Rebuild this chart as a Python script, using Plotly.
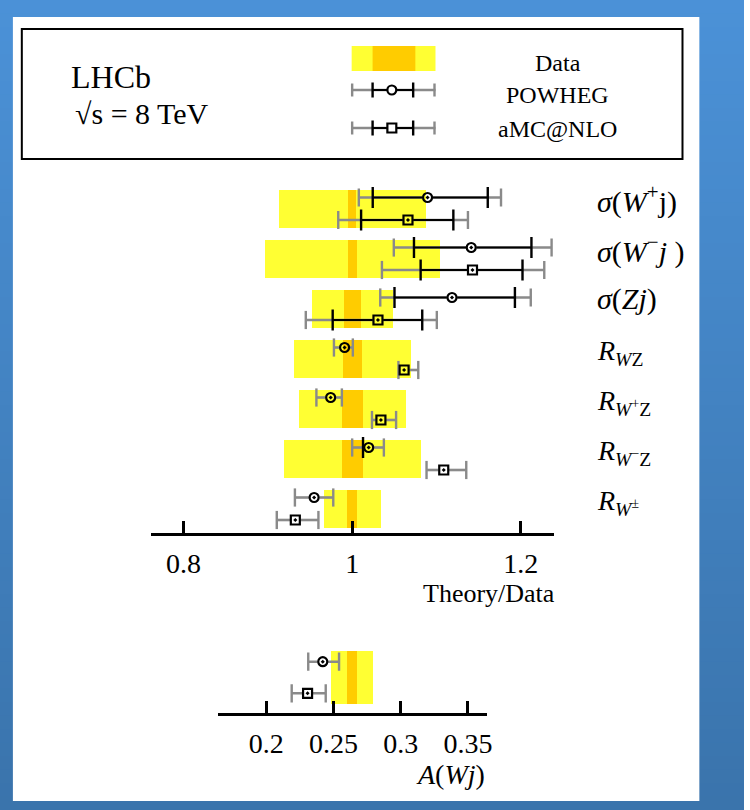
import plotly.graph_objects as go

# ---------------- data ----------------
labels = [
    "<i>σ</i>(<i>W</i><sup>+</sup>j)",
    "<i>σ</i>(<i>W</i><sup>−</sup><i>j</i> )",
    "<i>σ</i>(<i>Zj</i>)",
    "<i>R</i><sub><i>W</i>Z</sub>",
    "<i>R</i><sub><i>W</i><sup>+</sup>Z</sub>",
    "<i>R</i><sub><i>W</i><sup>−</sup>Z</sub>",
    "<i>R</i><sub><i>W</i><sup>±</sup></sub>",
]

# data uncertainties relative to the measurement (Theory/Data = 1)
data_tot = [0.087, 0.1037, 0.048, 0.069, 0.063, 0.081, 0.034]
data_stat = [0.0047, 0.0057, 0.0104, 0.0114, 0.0122, 0.0122, 0.006]

# POWHEG: central value, inner (black) interval, outer (grey) interval
pow_val = [1.0894, 1.1412, 1.1184, 0.9910, 0.9745, 1.0196, 0.9549]
pow_in_lo = [1.0244, 1.0733, 1.0502, 0.9870, 0.9705, 1.0129, 0.9510]
pow_in_hi = [1.1608, 1.2126, 1.1930, 0.9950, 0.9785, 1.0240, 0.9590]
pow_out_lo = [1.0079, 1.0494, 1.0333, 0.9784, 0.9576, 1.0000, 0.9321]
pow_out_hi = [1.1765, 1.2365, 1.2118, 1.0008, 0.9878, 1.0376, 0.9776]

# aMC@NLO
amc_val = [1.0662, 1.1427, 1.0306, 1.0616, 1.0341, 1.1086, 0.9326]
amc_in_lo = [1.0106, 1.0812, 0.9769, 1.0580, 1.0300, 1.1050, 0.9290]
amc_in_hi = [1.1200, 1.2020, 1.0831, 1.0650, 1.0380, 1.1120, 0.9360]
amc_out_lo = [0.9835, 1.0353, 0.9450, 1.0549, 1.0235, 1.0882, 0.9106]
amc_out_hi = [1.1373, 1.2278, 1.1004, 1.0784, 1.0521, 1.1353, 0.9600]

main_ticks = [0.8, 1.0, 1.2]
main_ticktext = ["0.8", "1", "1.2"]

# W+jet charge asymmetry A(Wj)
asym_data = 0.2641
asym_tot = 0.0156
asym_stat = 0.0035
asym_pow = [0.2421, 0.2395, 0.2447, 0.2313, 0.2542]   # val, in_lo, in_hi, out_lo, out_hi
asym_amc = [0.2308, 0.2282, 0.2334, 0.2190, 0.2443]
asym_ticks = [0.2, 0.25, 0.3, 0.35]
asym_ticktext = ["0.2", "0.25", "0.3", "0.35"]

# ---------------- style ----------------
W, H = 750, 810
SERIF = "Liberation Serif, Times New Roman, serif"
YELLOW = "#ffff33"
ORANGE = "#ffcc00"
GREY = "#8a8a8a"


def px(x):
    return x / W


def py(y):
    return 1 - y / H


rows = list(range(len(labels)))
OFF_POW, OFF_AMC = -0.23, 0.22
R_MAIN = 5.2 / 850.0      # marker half-width in axis units
R_ASYM = 5.2 / 1356.0

fig = go.Figure()


def add_model(xa, ya, ys, vals, in_lo, in_hi, out_lo, out_hi, symbol, r):
    # grey outer segments with a gap around the marker
    gx, gy, cx, cy = [], [], [], []
    for y, v, lo, hi in zip(ys, vals, out_lo, out_hi):
        if lo < v - r:
            gx += [lo, v - r, None]
            gy += [y, y, None]
        if hi > v + r:
            gx += [v + r, hi, None]
            gy += [y, y, None]
        cx += [lo, hi]
        cy += [y, y]
    fig.add_trace(go.Scatter(x=gx, y=gy, mode="lines", xaxis=xa, yaxis=ya,
                             line=dict(color=GREY, width=2.6), hoverinfo="skip",
                             showlegend=False))
    fig.add_trace(go.Scatter(x=cx, y=cy, mode="markers", xaxis=xa, yaxis=ya,
                             marker=dict(symbol="line-ns", size=13,
                                         line=dict(color=GREY, width=2.4)),
                             hoverinfo="skip", showlegend=False))
    # black inner segments
    bx, by, kx, ky = [], [], [], []
    for y, v, lo, hi in zip(ys, vals, in_lo, in_hi):
        if lo < v - r:
            bx += [lo, v - r, None]
            by += [y, y, None]
            kx.append(lo)
            ky.append(y)
        if hi > v + r:
            bx += [v + r, hi, None]
            by += [y, y, None]
            kx.append(hi)
            ky.append(y)
    fig.add_trace(go.Scatter(x=bx, y=by, mode="lines", xaxis=xa, yaxis=ya,
                             line=dict(color="black", width=2.2), hoverinfo="skip",
                             showlegend=False))
    fig.add_trace(go.Scatter(x=kx, y=ky, mode="markers", xaxis=xa, yaxis=ya,
                             marker=dict(symbol="line-ns", size=15,
                                         line=dict(color="black", width=2.4)),
                             hoverinfo="skip", showlegend=False))
    fig.add_trace(go.Scatter(x=vals, y=ys, mode="markers", xaxis=xa, yaxis=ya,
                             marker=dict(symbol=symbol, size=9, color="black",
                                         line=dict(color="black", width=2.2)),
                             hoverinfo="skip", showlegend=False))


# ---------------- main panel: Theory/Data ----------------
fig.add_trace(go.Bar(y=rows, x=[2 * t for t in data_tot], base=[1 - t for t in data_tot],
                     orientation="h", width=0.76, marker=dict(color=YELLOW, line_width=0),
                     xaxis="x", yaxis="y", hoverinfo="skip", showlegend=False))
fig.add_trace(go.Bar(y=rows, x=[2 * s for s in data_stat], base=[1 - s for s in data_stat],
                     orientation="h", width=0.76, marker=dict(color=ORANGE, line_width=0),
                     xaxis="x", yaxis="y", hoverinfo="skip", showlegend=False))

add_model("x", "y", [r + OFF_POW for r in rows], pow_val, pow_in_lo, pow_in_hi,
          pow_out_lo, pow_out_hi, "circle-open-dot", R_MAIN)
add_model("x", "y", [r + OFF_AMC for r in rows], amc_val, amc_in_lo, amc_in_hi,
          amc_out_lo, amc_out_hi, "square-open-dot", R_MAIN)

# ---------------- lower panel: A(Wj) ----------------
fig.add_trace(go.Bar(y=[0], x=[2 * asym_tot], base=[asym_data - asym_tot],
                     orientation="h", width=1.066, marker=dict(color=YELLOW, line_width=0),
                     xaxis="x2", yaxis="y2", hoverinfo="skip", showlegend=False))
fig.add_trace(go.Bar(y=[0], x=[2 * asym_stat], base=[asym_data - asym_stat],
                     orientation="h", width=1.066, marker=dict(color=ORANGE, line_width=0),
                     xaxis="x2", yaxis="y2", hoverinfo="skip", showlegend=False))
add_model("x2", "y2", [-0.312], [asym_pow[0]], [asym_pow[1]], [asym_pow[2]],
          [asym_pow[3]], [asym_pow[4]], "circle-open-dot", R_ASYM)
add_model("x2", "y2", [0.32], [asym_amc[0]], [asym_amc[1]], [asym_amc[2]],
          [asym_amc[3]], [asym_amc[4]], "square-open-dot", R_ASYM)

# ---------------- background ----------------
shapes = []
NSTRIP = 60
top_c = (75, 145, 215)
bot_c = (58, 116, 172)
for k in range(NSTRIP):
    t = k / (NSTRIP - 1)
    c = tuple(int(round(a + (b - a) * t)) for a, b in zip(top_c, bot_c))
    shapes.append(dict(type="rect", xref="paper", yref="paper", layer="below",
                       x0=0, x1=1, y0=1 - (k + 1) / NSTRIP - 0.002, y1=1 - k / NSTRIP,
                       fillcolor="rgb(%d,%d,%d)" % c, line_width=0))
shapes.append(dict(type="rect", xref="paper", yref="paper", layer="below",
                   x0=px(13), x1=px(705), y0=py(801), y1=py(17),
                   fillcolor="white", line_width=0))

# legend frame
shapes.append(dict(type="rect", xref="paper", yref="paper",
                   x0=px(22), x1=px(688), y0=py(159), y1=py(29),
                   line=dict(color="black", width=2), fillcolor="rgba(0,0,0,0)"))
# legend: data swatch
shapes.append(dict(type="rect", xref="paper", yref="paper", x0=px(354.5), x1=px(439),
                   y0=py(71), y1=py(46), fillcolor=YELLOW, line_width=0))
shapes.append(dict(type="rect", xref="paper", yref="paper", x0=px(375.6), x1=px(418.7),
                   y0=py(71), y1=py(46), fillcolor=ORANGE, line_width=0))


def legend_errbar(yc, marker):
    out = []
    out.append(dict(type="line", xref="paper", yref="paper", x0=px(354.5), x1=px(439),
                    y0=py(yc), y1=py(yc), line=dict(color=GREY, width=2.6)))
    for xc in (355, 438):
        out.append(dict(type="line", xref="paper", yref="paper", x0=px(xc), x1=px(xc),
                        y0=py(yc - 6.5), y1=py(yc + 6.5), line=dict(color=GREY, width=2.4)))
    out.append(dict(type="line", xref="paper", yref="paper", x0=px(375.6), x1=px(416.5),
                    y0=py(yc), y1=py(yc), line=dict(color="black", width=2.2)))
    for xc in (375.6, 416.5):
        out.append(dict(type="line", xref="paper", yref="paper", x0=px(xc), x1=px(xc),
                        y0=py(yc - 7.5), y1=py(yc + 7.5), line=dict(color="black", width=2.4)))
    out.append(dict(type=marker, xref="paper", yref="paper", x0=px(390.5), x1=px(399.5),
                    y0=py(yc + 4.5), y1=py(yc - 4.5), fillcolor="white",
                    line=dict(color="black", width=2.2)))
    return out


shapes += legend_errbar(90, "circle")
shapes += legend_errbar(128, "rect")

# ---------------- text ----------------
ann = []


def text(x, y, s, size, anchor="left", **kw):
    ann.append(dict(x=px(x), y=py(y), xref="paper", yref="paper", text=s,
                    showarrow=False, xanchor=anchor, yanchor="middle",
                    font=dict(family=SERIF, size=size, color="black"), **kw))


text(70, 77, "LHCb", 32)
text(74, 113, "√s = 8 TeV", 30)
text(562, 63, "Data", 24, anchor="center")
text(562, 95, "POWHEG", 24, anchor="center")
text(562, 129, "aMC@NLO", 24, anchor="center")
text(560, 593, "Theory/Data", 26, anchor="right", borderpad=0)
text(491, 774, "<i>A</i>(<i>Wj</i>)", 28, anchor="right")

for i, lab in enumerate(labels):
    ann.append(dict(x=px(600), y=i - (0.2 if i < 3 else 0.14), xref="paper", yref="y",
                    text=lab, showarrow=False, xanchor="left", yanchor="middle",
                    font=dict(family=SERIF, size=30 if i < 3 else 28, color="black")))

axis_common = dict(showgrid=False, zeroline=False, showline=True, linecolor="black",
                   linewidth=2.5, ticks="inside", ticklen=12, tickwidth=2.5,
                   tickcolor="black", tickfont=dict(family=SERIF, size=28, color="black"),
                   fixedrange=True)

fig.update_layout(
    width=W, height=H, margin=dict(l=0, r=0, t=0, b=0),
    paper_bgcolor="white", plot_bgcolor="rgba(0,0,0,0)",
    barmode="overlay", bargap=0,
    shapes=shapes, annotations=ann,
    xaxis=dict(domain=[px(152), px(558)], range=[0.7612, 1.2388], anchor="y",
               tickvals=main_ticks, ticktext=main_ticktext, ticklabelstandoff=4,
               **axis_common),
    yaxis=dict(domain=[py(533), py(180)], range=[6.48, -0.58], visible=False,
               fixedrange=True),
    xaxis2=dict(domain=[px(220), px(490.7)], range=[0.1644, 0.364], anchor="y2",
                tickvals=asym_ticks, ticktext=asym_ticktext, ticklabelstandoff=4,
                **axis_common),
    yaxis2=dict(domain=[py(712.7), py(630)], range=[0.708, -0.946], visible=False,
                fixedrange=True),
)

fig.write_html("out.html")
